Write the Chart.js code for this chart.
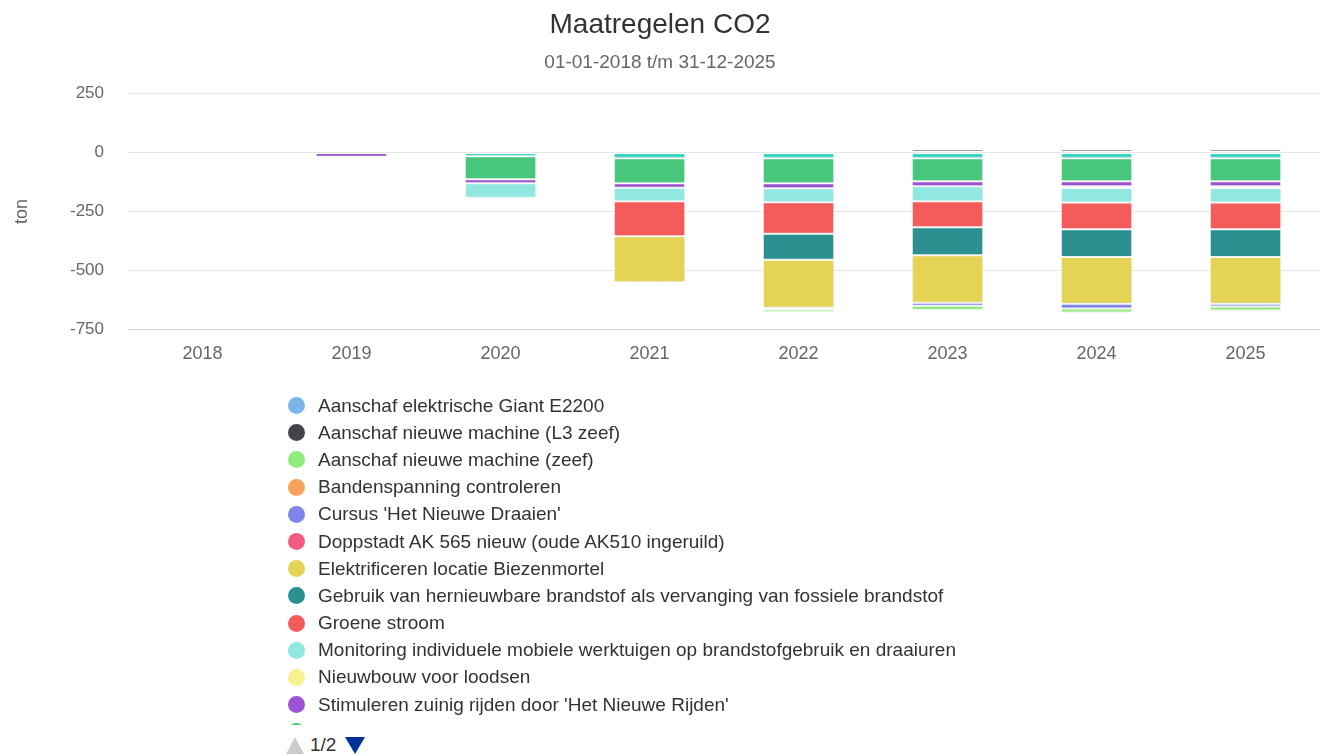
<!DOCTYPE html>
<html lang="nl">
<head>
    <meta charset="UTF-8">
    <title>Maatregelen CO2</title>
    <script src="https://cdn.jsdelivr.net/npm/chart.js"></script>
    <style>
        body {
            margin: 0;
            background: #fff;
            font-family: 'Liberation Sans', Arial, sans-serif;
            width: 1320px;
            height: 756px;
            overflow: hidden;
            position: relative;
        }

        #chart-wrap {
            position: absolute;
            left: 0;
            top: 0;
            width: 1320px;
            height: 397px;
        }

        #legend {
            position: absolute;
            left: 285px;
            top: 392px;
            width: 1000px;
            height: 333px;
            overflow: hidden;
        }

        .legend-item {
            height: 27.2px;
            display: flex;
            align-items: center;
            font-size: 19px;
            color: #333;
            white-space: nowrap;
        }

        .legend-dot {
            width: 17px;
            height: 17px;
            border-radius: 50%;
            margin-left: 3px;
            margin-right: 13px;
            flex: none;
        }

        #nav {
            position: absolute;
            left: 286px;
            top: 735px;
            height: 20px;
            display: flex;
            align-items: center;
            font-size: 19px;
            color: #333;
        }

        .arrow-up {
            width: 0;
            height: 0;
            border-left: 9px solid transparent;
            border-right: 9px solid transparent;
            border-bottom: 17px solid #cccccc;
            margin-right: 6px;
        }

        .arrow-down {
            width: 0;
            height: 0;
            border-left: 10px solid transparent;
            border-right: 10px solid transparent;
            border-top: 17px solid #003399;
            margin-left: 9px;
        }
    </style>
</head>
<body>
    <div id="chart-wrap">
        <canvas id="myChart"></canvas>
    </div>
    <div id="legend"></div>
    <div id="nav">
        <span class="arrow-up"></span>
        <span>1/2</span>
        <span class="arrow-down"></span>
    </div>

    <script>
        // categories
        const years = ['2018', '2019', '2020', '2021', '2022', '2023', '2024', '2025'];
        const yTicks = [250, 0, -250, -500, -750];

        // values per maatregel (ton CO2)
        const giantE2200     = [0, 0, 0, 0, 0, 0, 0, 0];
        const l3Zeef         = [0, 0, 0, 0, 0, 12, 12, 12];
        const zeef           = [0, 0, 0, 0, -11, -18, -17, -17];
        const bandenspanning = [0, 0, 0, 0, 0, 0, 0, 0];
        const cursus         = [0, 0, 0, 0, -8, -13, -20, -12];
        const doppstadt      = [0, 0, 0, 0, 0, 0, 0, 0];
        const elektrificeren = [0, 0, 0, -195, -203, -201, -198, -198];
        const hernieuwbaar   = [0, 0, 0, 0, -110, -119, -117, -117];
        const groeneStroom   = [0, 0, 0, -148, -134, -110, -114, -114];
        const monitoring     = [0, 0, -61, -57, -59, -64, -61, -61];
        const nieuwbouw      = [0, 0, 0, 0, 0, 0, -8, -8];
        const stimuleren     = [0, -18, -17, -19, -21, -21, -21, -21];
        const ledVerlichting = [0, 0, -98, -106, -106, -97, -97, -97];
        const zonnepanelen   = [0, 0, -16, -25, -25, -25, -25, -25];

        const seriesNames = [
            'Aanschaf elektrische Giant E2200',
            'Aanschaf nieuwe machine (L3 zeef)',
            'Aanschaf nieuwe machine (zeef)',
            'Bandenspanning controleren',
            "Cursus 'Het Nieuwe Draaien'",
            'Doppstadt AK 565 nieuw (oude AK510 ingeruild)',
            'Elektrificeren locatie Biezenmortel',
            'Gebruik van hernieuwbare brandstof als vervanging van fossiele brandstof',
            'Groene stroom',
            'Monitoring individuele mobiele werktuigen op brandstofgebruik en draaiuren',
            'Nieuwbouw voor loodsen',
            "Stimuleren zuinig rijden door 'Het Nieuwe Rijden'",
            'Vervangen verlichting door LED',
            'Zonnepanelen op dak'
        ];
        const seriesColors = [
            '#7cb5ec', '#434348', '#90ed7d', '#f7a35c', '#8085e9', '#f15c80', '#e4d354',
            '#2b908f', '#f45b5b', '#91e8e1', '#f6f28f', '#9b52d3', '#47c77b', '#3ad6bf'
        ];
        const seriesValues = [
            giantE2200, l3Zeef, zeef, bandenspanning, cursus, doppstadt, elektrificeren,
            hernieuwbaar, groeneStroom, monitoring, nieuwbouw, stimuleren, ledVerlichting, zonnepanelen
        ];

        // last series sits closest to zero, so feed them in reverse
        const datasets = [];
        for (let i = seriesNames.length - 1; i >= 0; i--) {
            datasets.push({
                label: seriesNames[i],
                data: seriesValues[i].map(v => v === 0 ? null : v),
                backgroundColor: seriesColors[i],
                borderColor: '#ffffff',
                borderWidth: 1,
                borderSkipped: false,
                categoryPercentage: 0.8,
                barPercentage: 0.6
            });
        }

        // html legend, same order as the series
        const legend = document.getElementById('legend');
        seriesNames.forEach((name, i) => {
            const item = document.createElement('div');
            item.className = 'legend-item';
            item.innerHTML = '<span class="legend-dot" style="background:' + seriesColors[i] + '"></span>';
            const txt = document.createElement('span');
            txt.textContent = name;
            item.appendChild(txt);
            legend.appendChild(item);
        });

        const barShadow = {
            id: 'barShadow',
            beforeDatasetsDraw(chart) {
                const ctx = chart.ctx;
                ctx.save();
                ctx.shadowColor = 'rgba(0, 0, 0, 0.12)';
                ctx.shadowBlur = 3;
                ctx.shadowOffsetX = 1;
                ctx.shadowOffsetY = 1;
            },
            afterDatasetsDraw(chart) {
                chart.ctx.restore();
            }
        };

        const font = "'Liberation Sans', Arial, sans-serif";

        new Chart(document.getElementById('myChart'), {
            type: 'bar',
            data: {
                labels: years,
                datasets: datasets
            },
            plugins: [barShadow],
            options: {
                responsive: true,
                maintainAspectRatio: false,
                animation: false,
                layout: {
                    padding: { left: 0, right: 0, top: 0, bottom: 18 }
                },
                plugins: {
                    legend: { display: false },
                    tooltip: { enabled: false },
                    title: {
                        display: true,
                        text: 'Maatregelen CO2',
                        color: '#333333',
                        font: { family: font, size: 28, weight: 'normal' },
                        padding: { top: 8, bottom: 10 }
                    },
                    subtitle: {
                        display: true,
                        text: '01-01-2018 t/m 31-12-2025',
                        color: '#666666',
                        font: { family: font, size: 19 },
                        padding: { top: 0, bottom: 19 }
                    }
                },
                scales: {
                    x: {
                        stacked: true,
                        grid: { display: false, drawTicks: false },
                        border: { display: true, color: '#ccd6eb', width: 1 },
                        ticks: {
                            color: '#666666',
                            font: { family: font, size: 18 },
                            padding: 14
                        }
                    },
                    y: {
                        stacked: true,
                        min: -750,
                        max: 250,
                        afterBuildTicks: scale => {
                            scale.ticks = yTicks.map(v => ({ value: v }));
                        },
                        afterFit: scale => {
                            scale.width = 128;
                        },
                        grid: { color: '#e6e6e6', drawTicks: false },
                        border: { display: false },
                        ticks: {
                            color: '#666666',
                            font: { family: font, size: 17 },
                            padding: 24
                        },
                        title: {
                            display: true,
                            text: 'ton',
                            color: '#666666',
                            font: { family: font, size: 18 },
                            padding: { top: 11, bottom: 0 }
                        }
                    }
                }
            }
        });
    </script>
</body>
</html>
